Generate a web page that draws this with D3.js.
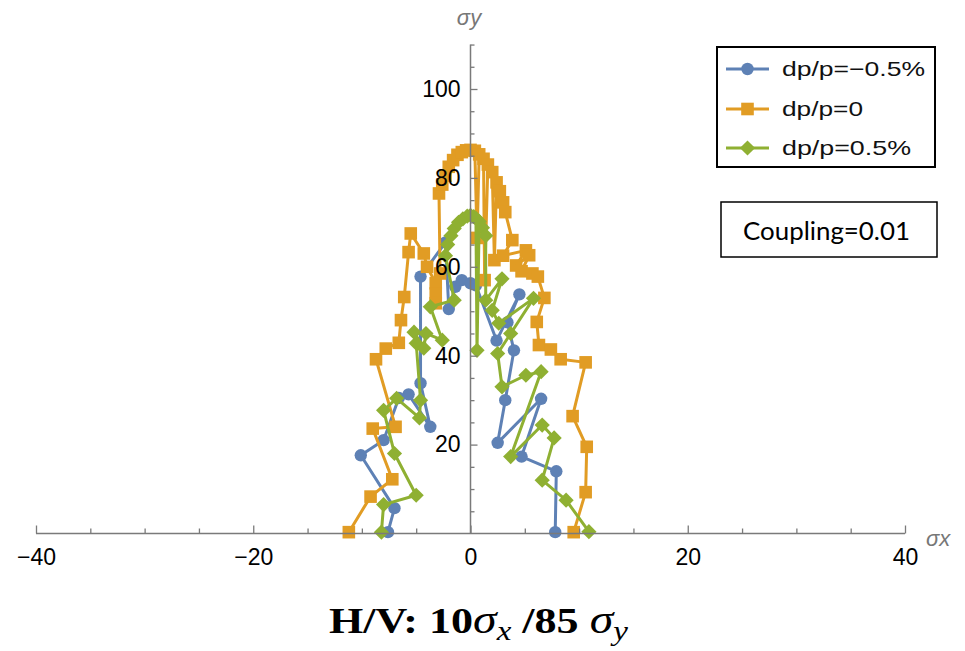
<!DOCTYPE html>
<html>
<head>
<meta charset="utf-8">
<script src="https://cdn.jsdelivr.net/npm/d3@7/dist/d3.min.js"></script>
<style>
  html, body { margin: 0; padding: 0; background: #fff; }
  svg { display: block; }
</style>
</head>
<body>
<svg id="chart" width="965" height="651"></svg>
<script>
// ---------------- DATA ----------------
const xMajorTicks = [-40, -20, 0, 20, 40];
const xTickLabels = ["\u221240", "\u221220", "0", "20", "40"];
const yMajorTicks = [20, 40, 60, 80, 100];
const yTickLabels = ["20", "40", "60", "80", "100"];
const seriesNames = ["dp/p=\u22120.5%", "dp/p=0", "dp/p=0.5%"];
const seriesColors = ["#5E81B5", "#E19C24", "#8FB032"];

// dp/p = -0.5%  (σx, σy)
const seriesMinus = [
  [-7.6, 0.3], [-7.0, 5.7], [-10.1, 17.6], [-8.0, 21.0], [-6.6, 30.5], [-5.7, 31.3],
  [-3.7, 24.0], [-4.6, 33.8], [-4.6, 57.8], [-2.3, 65.5], [-2.0, 50.5], [-1.4, 55.5],
  [-0.8, 57.0], [0.0, 56.3], [0.5, 55.8], [2.4, 43.4], [4.5, 53.8], [3.4, 47.5],
  [4.0, 41.2], [3.2, 30.0], [2.5, 20.4], [6.5, 30.3], [4.7, 17.3], [7.9, 14.0], [7.8, 0.3]
];
// dp/p = 0
const seriesZero = [
  [-11.2, 0.3], [-9.2, 8.3], [-7.2, 12.2], [-9.0, 23.6], [-6.9, 24.0], [-8.7, 39.2],
  [-7.8, 41.6], [-6.6, 42.9], [-6.4, 48.0], [-6.1, 53.2], [-5.7, 63.3], [-5.5, 67.5],
  [-4.3, 63.0], [-4.0, 60.0], [-3.2, 56.3], [-3.2, 54.0], [-3.2, 51.8], [-2.8, 58.5],
  [-2.9, 76.5], [-2.6, 78.5], [-2.3, 80.5], [-2.0, 82.5], [-1.6, 84.0], [-1.2, 85.2],
  [-0.8, 85.8], [-0.4, 86.2], [0.0, 86.3], [0.4, 86.1], [0.6, 66.5], [0.8, 85.3],
  [1.2, 84.3], [1.3, 57.0], [1.6, 83.0], [2.0, 81.3], [2.2, 61.5], [2.4, 79.0],
  [2.7, 77.0], [3.0, 74.5], [3.2, 72.3], [3.85, 66.0], [3.0, 62.5], [5.1, 63.7],
  [4.2, 60.3], [5.4, 62.6], [4.7, 59.0], [5.7, 58.5], [6.2, 57.8], [6.8, 53.0],
  [6.1, 47.6], [6.3, 42.4], [7.4, 41.4], [8.3, 39.2], [10.6, 38.5], [9.4, 26.4],
  [10.7, 19.5], [10.6, 9.3], [9.5, 0.3]
];
// dp/p = +0.5%
const seriesPlus = [
  [-8.2, 0.3], [-8.0, 6.5], [-5.0, 8.6], [-7.0, 18.0], [-8.0, 27.7], [-6.8, 30.4],
  [-4.7, 26.0], [-4.6, 30.0], [-5.0, 42.8], [-5.2, 45.3], [-4.3, 41.7], [-4.1, 45.0],
  [-2.6, 43.5], [-3.7, 51.0], [-1.5, 52.5], [-2.3, 62.5], [-2.1, 65.0], [-1.8, 67.0],
  [-1.5, 68.6], [-1.1, 70.0], [-0.7, 70.8], [-0.3, 71.4], [0.0, 71.6], [0.3, 71.3],
  [0.5, 70.9], [0.6, 41.2], [0.8, 70.2], [1.1, 68.8], [1.4, 67.0], [1.4, 52.5],
  [2.9, 57.3], [2.0, 50.2], [2.6, 47.3], [5.8, 52.9], [3.7, 45.0], [2.5, 40.5],
  [2.9, 33.0], [5.1, 35.6], [6.5, 36.4], [3.7, 17.3], [6.6, 24.4], [7.7, 21.5],
  [6.6, 12.0], [8.8, 7.5], [10.9, 0.4]
];
const allSeries = [seriesMinus, seriesZero, seriesPlus];
const markerShapes = ["circle", "square", "diamond"];

// ---------------- CHART ----------------
const svg = d3.select("#chart");
const x = d3.scaleLinear().domain([-40, 40]).range([36, 905]);
const y = d3.scaleLinear().domain([0, 100]).range([533.5, 89]);
const yTop = 110;

const axisColor = "#7a7a7a";
const labelFont = "'Liberation Sans', Arial, sans-serif";

// Series (drawn first, axes on top as in the original)
const line = d3.line().x(d => x(d[0])).y(d => y(d[1]));
function drawMarker(g, shape, cx, cy, color) {
  if (shape === "circle") {
    g.append("circle").attr("cx", cx).attr("cy", cy).attr("r", 6.2).attr("fill", color);
  } else if (shape === "square") {
    g.append("rect").attr("x", cx - 6.3).attr("y", cy - 6.3).attr("width", 12.6).attr("height", 12.6).attr("fill", color);
  } else {
    const h = 7.6;
    g.append("path").attr("d", `M${cx},${cy - h}L${cx + h},${cy}L${cx},${cy + h}L${cx - h},${cy}Z`).attr("fill", color);
  }
}
allSeries.forEach((s, i) => {
  const g = svg.append("g");
  g.append("path").datum(s).attr("d", line).attr("fill", "none")
    .attr("stroke", seriesColors[i]).attr("stroke-width", 3).attr("stroke-linejoin", "round");
  s.forEach(d => drawMarker(g, markerShapes[i], x(d[0]), y(d[1]), seriesColors[i]));
});

// X axis
const xMinor = d3.range(-40, 41, 5).filter(v => !xMajorTicks.includes(v));
const gx = svg.append("g").attr("transform", `translate(0,${y(0)})`);
gx.call(d3.axisBottom(x).tickValues(xMinor).tickSize(-5).tickSizeOuter(0).tickFormat(""));
gx.selectAll(".tick line").attr("stroke", axisColor).attr("stroke-width", 1.3);
const gxMaj = svg.append("g").attr("transform", `translate(0,${y(0)})`);
gxMaj.call(d3.axisBottom(x).tickValues(xMajorTicks).tickSize(-8).tickSizeOuter(0)
  .tickFormat((d, i) => xTickLabels[i]));
gxMaj.selectAll(".tick line").attr("stroke", axisColor).attr("stroke-width", 1.3);
gxMaj.selectAll(".tick text").attr("y", 15).attr("dy", "0.71em")
  .attr("font-size", 23).attr("font-family", labelFont).attr("fill", "#000");
svg.selectAll(".domain").remove();
svg.append("line").attr("x1", x(-40)).attr("x2", x(40)).attr("y1", y(0)).attr("y2", y(0))
  .attr("stroke", axisColor).attr("stroke-width", 1.5);

// Y axis
const yMinor = d3.range(5, yTop + 1, 5).filter(v => !yMajorTicks.includes(v));
const gy = svg.append("g").attr("transform", `translate(${x(0)},0)`);
gy.call(d3.axisLeft(y).tickValues(yMinor).tickSize(-4).tickSizeOuter(0).tickFormat(""));
gy.selectAll(".tick line").attr("stroke", axisColor).attr("stroke-width", 1.3);
const gyMaj = svg.append("g").attr("transform", `translate(${x(0)},0)`);
gyMaj.call(d3.axisLeft(y).tickValues(yMajorTicks).tickSize(-7).tickSizeOuter(0)
  .tickFormat((d, i) => yTickLabels[i]));
gyMaj.selectAll(".tick line").attr("stroke", axisColor).attr("stroke-width", 1.3);
gyMaj.selectAll(".tick text").attr("x", -10)
  .attr("font-size", 23).attr("font-family", labelFont).attr("fill", "#000");
svg.selectAll(".domain").remove();
svg.append("line").attr("x1", x(0)).attr("x2", x(0)).attr("y1", y(0)).attr("y2", y(yTop))
  .attr("stroke", axisColor).attr("stroke-width", 1.5);

// Axis labels
svg.append("text").attr("x", 469).attr("y", 25).attr("text-anchor", "middle")
  .attr("font-family", labelFont).attr("font-style", "italic").attr("font-size", 22)
  .attr("fill", "#777").text("\u03c3y");
svg.append("text").attr("x", 926).attr("y", 546)
  .attr("font-family", labelFont).attr("font-style", "italic").attr("font-size", 22)
  .attr("fill", "#777").text("\u03c3x");

// Legend
const leg = svg.append("g");
leg.append("rect").attr("x", 717).attr("y", 47).attr("width", 218).attr("height", 120)
  .attr("fill", "#fff").attr("stroke", "#000").attr("stroke-width", 2);
const legRows = [69, 109, 148];
const legTextWidths = [143, 81, 129];
seriesNames.forEach((name, i) => {
  const ly = legRows[i];
  leg.append("line").attr("x1", 726).attr("x2", 769).attr("y1", ly).attr("y2", ly)
    .attr("stroke", seriesColors[i]).attr("stroke-width", 2.8);
  drawMarker(leg, markerShapes[i], 747.5, ly, seriesColors[i]);
  leg.append("text").attr("x", 782).attr("y", ly + 7).attr("font-family", labelFont)
    .attr("font-size", 21).attr("fill", "#111")
    .attr("textLength", legTextWidths[i]).attr("lengthAdjust", "spacingAndGlyphs").text(name);
});

// Coupling box
svg.append("rect").attr("x", 721).attr("y", 202).attr("width", 216).attr("height", 55)
  .attr("fill", "#fff").attr("stroke", "#000").attr("stroke-width", 1.5);
svg.append("text").attr("x", 743).attr("y", 240)
  .attr("font-family", "Lato, 'Open Sans', sans-serif").attr("font-size", 25)
  .attr("textLength", 167).attr("lengthAdjust", "spacingAndGlyphs")
  .attr("fill", "#000").text("Coupling=0.01");

// Title (natural layout, then fitted to the original's width)
const serif = "'Liberation Serif', 'Times New Roman', serif";
const titleG = svg.append("g");
const title = titleG.append("text").attr("x", 0).attr("y", 0)
  .attr("font-family", serif).attr("font-size", 36).attr("font-weight", "bold").attr("fill", "#000");
title.append("tspan").text("H/V: 10");
title.append("tspan").attr("font-style", "italic").attr("font-weight", "normal").attr("font-size", 39).text("\u03c3");
title.append("tspan").attr("dy", 7).attr("font-style", "italic").attr("font-weight", "normal").attr("font-size", 27).text("x");
title.append("tspan").attr("dy", -7).text("\u00a0/85\u00a0");
title.append("tspan").attr("font-style", "italic").attr("font-weight", "normal").attr("font-size", 39).text("\u03c3");
title.append("tspan").attr("dy", 7).attr("font-style", "italic").attr("font-weight", "normal").attr("font-size", 27).text("y");
const tb = title.node().getBBox();
const sx = 299 / tb.width;
titleG.attr("transform", `translate(${329 - tb.x * sx},633) scale(${sx},1)`);
</script>
</body>
</html>
